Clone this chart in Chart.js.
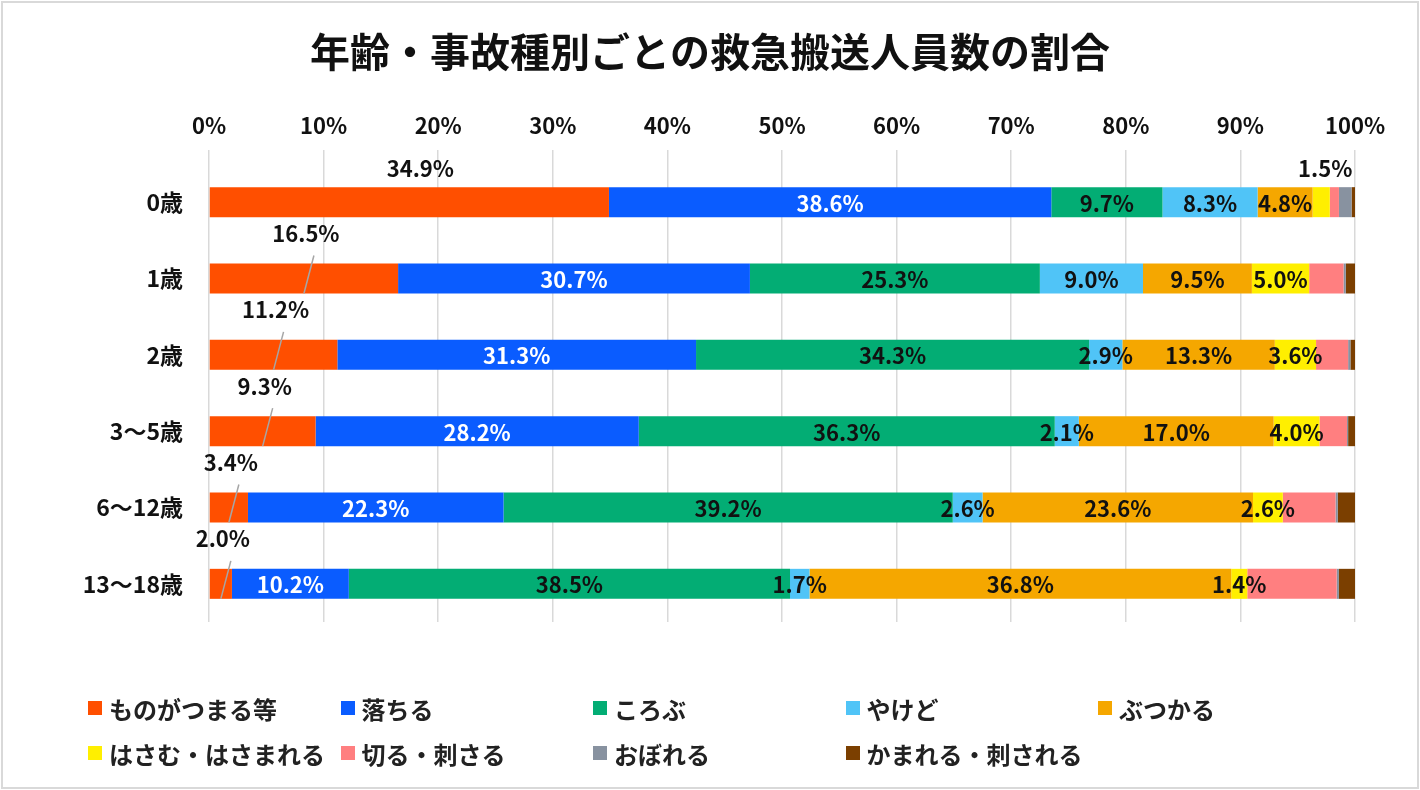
<!DOCTYPE html>
<html lang="ja">
<head>
<meta charset="utf-8">
<script src="https://cdn.jsdelivr.net/npm/chart.js@4/dist/chart.umd.min.js"></script>
<style>
  html, body { margin: 0; padding: 0; background: #fff; }
  #wrap { position: relative; width: 1420px; height: 790px; }
  #frame { position: absolute; left: 1px; top: 1px; width: 1414px; height: 784px; border: 2px solid #d9d9d9; pointer-events: none; }
  #legend { position: absolute; left: 88px; top: 690px; display: grid; grid-template-columns: repeat(5, 252.5px); row-gap: 9px;
    font-family: "Noto Sans CJK JP", sans-serif; font-weight: bold; font-size: 24px; color: #222; }
  #legend .item { display: flex; align-items: center; height: 36px; white-space: nowrap; }
  #legend .box { width: 14px; height: 14px; margin-right: 7px; flex: none; }
</style>
</head>
<body>
<div id="wrap">
  <canvas id="chart" width="1420" height="790"></canvas>
  <div id="legend"></div>
  <div id="frame"></div>
</div>
<script>
const FONT = '"Noto Sans CJK JP", sans-serif';

// age groups
const ages = ['0歳', '1歳', '2歳', '3～5歳', '6～12歳', '13～18歳'];

// accident types
const types = ['ものがつまる等', '落ちる', 'ころぶ', 'やけど', 'ぶつかる',
  'はさむ・はさまれる', '切る・刺さる', 'おぼれる', 'かまれる・刺される'];

const typeColors = ['#FF4F00', '#0A5CFF', '#03AD74', '#50C4F7', '#F5A700',
  '#FFEF00', '#FF7F80', '#8892A0', '#7B3F00'];

// percentages per type, ordered as ages
const choke   = [34.9, 16.5, 11.2, 9.3, 3.4, 2.0];
const fall    = [38.6, 30.7, 31.3, 28.2, 22.3, 10.2];
const tumble  = [9.7, 25.3, 34.3, 36.3, 39.2, 38.5];
const burn    = [8.3, 9.0, 2.9, 2.1, 2.6, 1.7];
const bump    = [4.8, 9.5, 13.3, 17.0, 23.6, 36.8];
const pinch   = [1.5, 5.0, 3.6, 4.0, 2.6, 1.4];
const cut     = [0.8, 3.0, 2.8, 2.4, 4.6, 7.8];
const drown   = [1.1, 0.2, 0.2, 0.1, 0.2, 0.2];
const bitten  = [0.3, 0.8, 0.4, 0.6, 1.5, 1.4];

const seriesValues = [choke, fall, tumble, burn, bump, pinch, cut, drown, bitten];

const xTicks = [0, 10, 20, 30, 40, 50, 60, 70, 80, 90, 100];

// which series get no value label
const unlabeled = [6, 7, 8];

const barLabels = {
  id: 'barLabels',
  afterDatasetsDraw(chart) {
    const ctx = chart.ctx;
    ctx.save();
    ctx.font = 'bold 22px ' + FONT;
    ctx.textAlign = 'center';
    ctx.textBaseline = 'middle';
    chart.data.datasets.forEach((ds, i) => {
      if (unlabeled.includes(i)) return;
      const meta = chart.getDatasetMeta(i);
      meta.data.forEach((bar, j) => {
        const v = ds.data[j];
        const text = v.toFixed(1) + '%';
        const left = Math.min(bar.x, bar.base);
        const right = Math.max(bar.x, bar.base);
        const cx = (left + right) / 2;
        const top = bar.y - bar.height / 2;
        const bottom = bar.y + bar.height / 2;
        if (i === 0) {
          ctx.fillStyle = '#111';
          if (j === 0) {
            ctx.fillText(text, cx + 11, top - 19);
          } else {
            ctx.fillText(text, cx + 2, top - 30);
            ctx.strokeStyle = '#a6a6a6';
            ctx.lineWidth = 1.5;
            ctx.beginPath();
            ctx.moveTo(cx + 10, top - 8);
            ctx.lineTo(cx, bottom);
            ctx.stroke();
          }
        } else if (i === 5 && j === 0) {
          ctx.fillStyle = '#111';
          ctx.fillText(text, cx + 4, top - 19);
        } else {
          ctx.fillStyle = i === 1 ? '#fff' : '#111';
          ctx.fillText(text, cx, bar.y + 1);
        }
      });
    });
    ctx.restore();
  }
};

const chart = new Chart(document.getElementById('chart'), {
  type: 'bar',
  data: {
    labels: ages,
    datasets: types.map((t, i) => ({
      label: t,
      data: seriesValues[i],
      backgroundColor: typeColors[i],
      borderWidth: 0,
      barPercentage: 0.393,
      categoryPercentage: 1
    }))
  },
  options: {
    indexAxis: 'y',
    responsive: false,
    animation: false,
    layout: { padding: { left: 65, right: 65, top: 0, bottom: 168 } },
    plugins: {
      legend: { display: false },
      tooltip: { enabled: false },
      title: {
        display: true,
        text: '年齢・事故種別ごとの救急搬送人員数の割合',
        color: '#111',
        font: { family: FONT, size: 40, weight: 'bold' },
        padding: { top: 28, bottom: 10 }
      }
    },
    scales: {
      x: {
        position: 'top',
        stacked: true,
        min: 0,
        max: 100,
        afterBuildTicks(s) { s.ticks = xTicks.map(v => ({ value: v })); },
        afterFit(s) { s.height = 164 - 86; },
        grid: { color: '#d9d9d9', lineWidth: 1.5, drawTicks: true, tickLength: 14 },
        border: { display: false },
        ticks: {
          color: '#111',
          padding: 11,
          maxRotation: 0,
          font: { family: FONT, size: 22, weight: 'bold' },
          callback: v => v + '%'
        }
      },
      y: {
        stacked: true,
        afterFit(s) { s.width = 144; },
        grid: { display: false, drawTicks: false },
        border: { display: false },
        ticks: {
          color: '#111',
          padding: 26,
          font: { family: FONT, size: 23, weight: 'bold' }
        }
      }
    }
  },
  plugins: [barLabels]
});

// legend in fixed columns like the original
const legendEl = document.getElementById('legend');
chart.data.datasets.forEach(ds => {
  const item = document.createElement('div');
  item.className = 'item';
  const box = document.createElement('span');
  box.className = 'box';
  box.style.background = ds.backgroundColor;
  const label = document.createElement('span');
  label.textContent = ds.label;
  item.appendChild(box);
  item.appendChild(label);
  legendEl.appendChild(item);
});
</script>
</body>
</html>
